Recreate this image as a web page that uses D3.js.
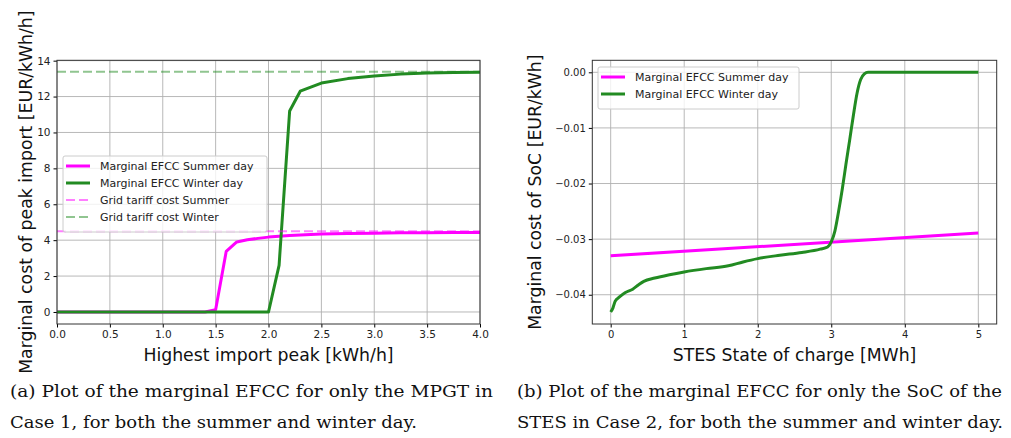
<!DOCTYPE html>
<html>
<head>
<meta charset="utf-8">
<script src="https://cdn.jsdelivr.net/npm/d3@7"></script>
<style>
  body { margin: 0; background: #fff; }
  text { font-family: "DejaVu Sans", sans-serif; }
</style>
</head>
<body>
<div id="vis"></div>
<script>
// ---- data ----
// (a) marginal EFCC vs highest import peak
const peakX      = [0.0, 0.5, 1.0, 1.4, 1.5, 1.6, 1.7, 1.8, 1.9, 2.0, 2.1, 2.2, 2.3, 2.5, 2.75, 3.0, 3.25, 3.5, 3.75, 4.0];
const peakSummer = [0.0, 0.0, 0.0, 0.0, 0.12, 3.37, 3.9, 4.02, 4.1, 4.17, 4.22, 4.26, 4.29, 4.34, 4.37, 4.39, 4.41, 4.42, 4.43, 4.43];
const peakWinter = [0.0, 0.0, 0.0, 0.0, 0.0, 0.0, 0.0, 0.0, 0.0, 0.0, 2.6, 11.2, 12.3, 12.75, 13.0, 13.15, 13.25, 13.31, 13.34, 13.35];
const tariffSummer = 4.49;
const tariffWinter = 13.38;
const peakXTicks = [0, 0.5, 1, 1.5, 2, 2.5, 3, 3.5, 4];
const peakYTicks = [0, 2, 4, 6, 8, 10, 12, 14];

// (b) marginal EFCC vs STES state of charge
const socSummerX = [0, 5];
const socSummer  = [-0.0330, -0.0289];
const socWinterX = [0, 0.03, 0.06, 0.12, 0.2, 0.3, 0.38, 0.45, 0.6, 0.8, 1.0, 1.3, 1.6, 1.8, 2.0, 2.3, 2.6, 2.85, 2.95, 3.0, 3.05, 3.1, 3.15, 3.2, 3.25, 3.3, 3.35, 3.4, 3.45, 3.5, 3.6, 4.0, 4.5, 5.0];
const socWinter  = [-0.0431, -0.0424, -0.0412, -0.0404, -0.0396, -0.0390, -0.0382, -0.0376, -0.0370, -0.0364, -0.0359, -0.0353, -0.0348, -0.0341, -0.0335, -0.0329, -0.0324, -0.0318, -0.0314, -0.0305, -0.0285, -0.0250, -0.0210, -0.0165, -0.0122, -0.0078, -0.0038, -0.0013, -0.0003, 0.0, 0.0, 0.0, 0.0, 0.0];
const socXTicks = [0, 1, 2, 3, 4, 5];
const socYTicks = [0, -0.01, -0.02, -0.03, -0.04];

const captionA = ["(a) Plot of the marginal EFCC for only the MPGT in", "Case 1, for both the summer and winter day."];
const captionB = ["(b) Plot of the marginal EFCC for only the SoC of the", "STES in Case 2, for both the summer and winter day."];

const MAGENTA = "#ff00ff", GREEN = "#228b22";

const svg = d3.select("#vis").append("svg")
    .attr("width", 1011)
    .attr("height", 438);

function fmtMinus(s) { return s.replace("-", "\u2212"); }

function drawPanel(opts) {
    const x = d3.scaleLinear().domain(opts.xDomain).range([opts.left, opts.right]);
    const y = d3.scaleLinear().domain(opts.yDomain).range([opts.bottom, opts.top]);
    const g = svg.append("g");

    // grid
    g.append("g").selectAll("line").data(opts.xTicks).join("line")
        .attr("x1", d => x(d)).attr("x2", d => x(d))
        .attr("y1", opts.top).attr("y2", opts.bottom)
        .attr("stroke", "#b0b0b0").attr("stroke-width", 0.9);
    g.append("g").selectAll("line").data(opts.yTicks).join("line")
        .attr("x1", opts.left).attr("x2", opts.right)
        .attr("y1", d => y(d)).attr("y2", d => y(d))
        .attr("stroke", "#b0b0b0").attr("stroke-width", 0.9);

    // axes
    g.append("g")
        .attr("transform", `translate(0,${opts.bottom})`)
        .call(d3.axisBottom(x).tickValues(opts.xTicks).tickFormat(opts.xFormat).tickSize(3.5).tickPadding(3))
        .call(a => a.select(".domain").remove())
        .call(a => a.selectAll("text").attr("font-size", opts.tickFont).attr("fill", "#222").style("font-family", "DejaVu Sans"));
    g.append("g")
        .attr("transform", `translate(${opts.left},0)`)
        .call(d3.axisLeft(y).tickValues(opts.yTicks).tickFormat(opts.yFormat).tickSize(3.5).tickPadding(3))
        .call(a => a.select(".domain").remove())
        .call(a => a.selectAll("text").attr("font-size", opts.tickFont).attr("fill", "#222").style("font-family", "DejaVu Sans"));

    const clipId = "clip" + opts.id;
    svg.append("clipPath").attr("id", clipId).append("rect")
        .attr("x", opts.left).attr("y", opts.top)
        .attr("width", opts.right - opts.left).attr("height", opts.bottom - opts.top);

    const plot = g.append("g").attr("clip-path", `url(#${clipId})`);
    opts.series.forEach(s => {
        const line = d3.line().x(d => x(d[0])).y(d => y(d[1])).curve(s.curve || d3.curveLinear);
        plot.append("path")
            .datum(d3.zip(s.xs, s.ys))
            .attr("fill", "none")
            .attr("stroke", s.color)
            .attr("stroke-opacity", s.opacity || 1)
            .attr("stroke-width", s.width)
            .attr("stroke-dasharray", s.dash || null)
            .attr("stroke-linejoin", "round")
            .attr("d", line);
    });

    // frame
    g.append("rect")
        .attr("x", opts.left).attr("y", opts.top)
        .attr("width", opts.right - opts.left).attr("height", opts.bottom - opts.top)
        .attr("fill", "none").attr("stroke", "#333").attr("stroke-width", 1);

    // axis labels
    g.append("text")
        .attr("x", (opts.left + opts.right) / 2).attr("y", 361)
        .attr("text-anchor", "middle").attr("font-size", 17.3).attr("fill", "#111")
        .text(opts.xLabel);
    g.append("text")
        .attr("transform", `translate(${opts.yLabelX},${(opts.top + opts.bottom) / 2}) rotate(-90)`)
        .attr("text-anchor", "middle").attr("font-size", 17.3).attr("fill", "#111")
        .text(opts.yLabel);

    // legend
    const lg = g.append("g").attr("transform", `translate(${opts.legend.x},${opts.legend.y})`);
    const entries = opts.series.filter(s => s.label);
    lg.append("rect")
        .attr("width", opts.legend.w).attr("height", 8 + entries.length * 17)
        .attr("rx", 2)
        .attr("fill", "#fff").attr("fill-opacity", 0.8)
        .attr("stroke", "#ccc").attr("stroke-width", 1);
    entries.forEach((s, i) => {
        const cy = 10 + i * 17;
        lg.append("line")
            .attr("x1", 3).attr("x2", 27).attr("y1", cy).attr("y2", cy)
            .attr("stroke", s.color).attr("stroke-opacity", s.opacity || 1)
            .attr("stroke-width", s.width).attr("stroke-dasharray", s.dash || null);
        lg.append("text")
            .attr("x", 37).attr("y", cy + 4)
            .attr("font-size", 11).attr("fill", "#222")
            .text(s.label);
    });
}

// panel (a)
drawPanel({
    id: "a", left: 57, right: 480, top: 60.3, bottom: 324,
    xDomain: [0, 4], yDomain: [-0.67, 14.02],
    xTicks: peakXTicks, yTicks: peakYTicks,
    xFormat: d3.format(".1f"), yFormat: d3.format("d"),
    tickFont: 10.5,
    xLabel: "Highest import peak [kWh/h]",
    yLabel: "Marginal cost of peak import [EUR/kWh/h]", yLabelX: 32,
    legend: { x: 63, y: 156, w: 204 },
    series: [
        { xs: peakX, ys: peakSummer, color: MAGENTA, width: 3, label: "Marginal EFCC Summer day" },
        { xs: peakX, ys: peakWinter, color: GREEN, width: 3, label: "Marginal EFCC Winter day" },
        { xs: [0, 4], ys: [tariffSummer, tariffSummer], color: MAGENTA, width: 2, opacity: 0.5, dash: "9,4", label: "Grid tariff cost Summer" },
        { xs: [0, 4], ys: [tariffWinter, tariffWinter], color: GREEN, width: 2, opacity: 0.5, dash: "9,4", label: "Grid tariff cost Winter" }
    ]
});

// panel (b)
drawPanel({
    id: "b", left: 592.3, right: 996.7, top: 60.3, bottom: 324,
    xDomain: [-0.25, 5.25], yDomain: [-0.04526, 0.00216],
    xTicks: socXTicks, yTicks: socYTicks,
    xFormat: d3.format("d"), yFormat: d => fmtMinus(d3.format(".2f")(d)),
    tickFont: 10,
    xLabel: "STES State of charge [MWh]",
    yLabel: "Marginal cost of SoC [EUR/kWh]", yLabelX: 541,
    legend: { x: 598, y: 67, w: 201 },
    series: [
        { xs: socSummerX, ys: socSummer, color: MAGENTA, width: 3, label: "Marginal EFCC Summer day" },
        { xs: socWinterX, ys: socWinter, color: GREEN, width: 3, curve: d3.curveMonotoneX, label: "Marginal EFCC Winter day" }
    ]
});

// captions
const captionWidths = [[483, 407], [485, 486]];
function caption(lines, x, widths) {
    lines.forEach((t, i) => {
        svg.append("text")
            .attr("x", x).attr("y", 397 + i * 31)
            .style("font-family", "'DejaVu Serif', serif")
            .attr("font-size", 16).attr("fill", "#111")
            .attr("textLength", widths[i])
            .attr("lengthAdjust", "spacingAndGlyphs")
            .text(t);
    });
}
caption(captionA, 10, captionWidths[0]);
caption(captionB, 517, captionWidths[1]);
</script>
</body>
</html>
